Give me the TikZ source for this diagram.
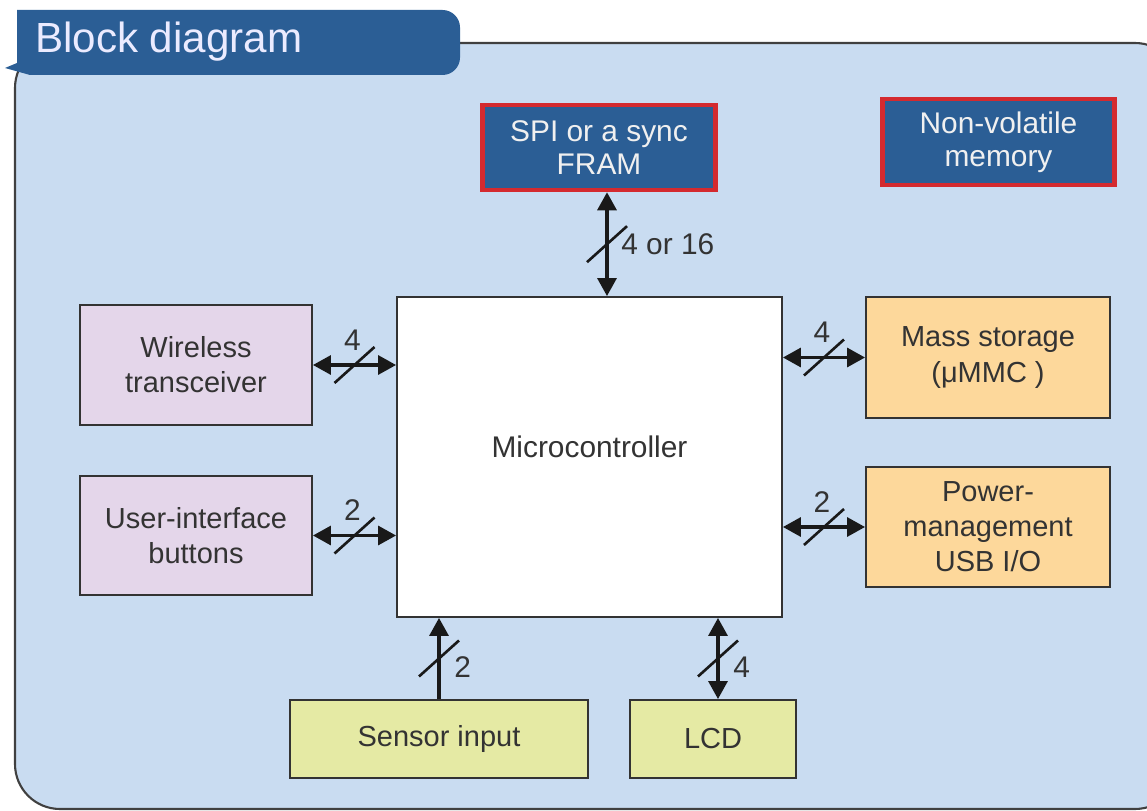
\documentclass[tikz,border=0pt]{standalone}
\usepackage{fontspec}
\setmainfont{Liberation Sans}
\usetikzlibrary{positioning}
\usetikzlibrary{arrows.meta,calc}

\definecolor{panelblue}{HTML}{C9DCF1}
\definecolor{tabblue}{HTML}{2B5E95}
\definecolor{memred}{HTML}{D42A2F}
\definecolor{lilac}{HTML}{E4D6EA}
\definecolor{peach}{HTML}{FDD89B}
\definecolor{sensorgreen}{HTML}{E5EAA4}

\tikzset{
  block/.style={draw=black!80, line width=1.1pt, align=center, text=black!80,
    font=\fontsize{16.5}{20}\selectfont, inner sep=0pt},
  mem/.style={fill=tabblue, draw=memred, line width=2.6pt, align=center,
    text=white!94!black, font=\fontsize{17}{19}\selectfont, inner sep=0pt},
  link/.style={line width=1.8pt, black!90,
    {Triangle[length=0.36cm,width=0.38cm]}-{Triangle[length=0.36cm,width=0.38cm]}},
  inlink/.style={line width=1.8pt, black!90, -{Triangle[length=0.36cm,width=0.38cm]}},
  bus/.style={line width=1.5pt, black!90},
  num/.style={font=\fontsize{17}{20}\selectfont, text=black!80, inner sep=0pt}
}

\begin{document}
\begin{tikzpicture}[x=0.02cm, y=-0.02cm]
  \useasboundingbox (0,0) rectangle (1147,811);
  \clip (0,0) rectangle (1147,811);

  % panel and title tab
  \draw[fill=panelblue, draw=black!75, line width=1.2pt, rounded corners=0.9cm]
    (15,43) rectangle (1180,809);
  \fill[tabblue] (17,10) [rounded corners=0.35cm] -- (460,10) -- (460,75)
    [sharp corners] -- (30,75) -- (5,68) -- (17,63) -- cycle;
  \node[anchor=west, text=white!92!blue, font=\fontsize{24}{28}\selectfont]
    (title) at (29,42) {Block diagram};

  % memories
  \node[mem, minimum width=4.66cm, minimum height=1.7cm] (spi) at (599,147.5)
    {SPI or a sync\\FRAM};
  \node[mem, minimum width=4.64cm, minimum height=1.72cm] (nvm) at (998.5,142)
    {Non-volatile\\memory};

  % blocks
  \node[block, fill=white, minimum width=7.7cm, minimum height=6.4cm] (mcu) at (589.5,457)
    {\raisebox{0.4cm}{\fontsize{17}{20}\selectfont Microcontroller}};
  \node[block, fill=lilac, minimum width=4.64cm, minimum height=2.4cm] (wl) at (196,365)
    {Wireless\\transceiver};
  \node[block, fill=lilac, minimum width=4.64cm, minimum height=2.38cm] (ui) at (196,535.5)
    {User-interface\\buttons};
  \node[block, fill=peach, minimum width=4.88cm, minimum height=2.42cm] (mass) at (988,357.5)
    {Mass storage\\(μMMC )};
  \node[block, fill=peach, minimum width=4.88cm, minimum height=2.4cm] (pwr) at (988,527)
    {Power-\\management\\USB I/O};
  \node[block, fill=sensorgreen, minimum width=5.96cm, minimum height=1.56cm] (sens) at (439,739)
    {Sensor input};
  \node[block, fill=sensorgreen, minimum width=3.32cm, minimum height=1.56cm] (lcd) at (713,739)
    {LCD};

  % connectors
  \draw[link] ([xshift=0.16cm]spi.south) -- coordinate (b1) ([xshift=0.16cm]spi.south |- mcu.north);
  \draw[link] (wl.east) -- coordinate (b2) (wl.east -| mcu.west);
  \draw[link] (ui.east) -- coordinate (b3) (ui.east -| mcu.west);
  \draw[link] (mass.west -| mcu.east) -- coordinate (b4) (mass.west);
  \draw[link] (pwr.west -| mcu.east) -- coordinate (b5) (pwr.west);
  \draw[inlink] (sens.north) -- coordinate (b6) (sens.north |- mcu.south);
  \draw[link] ([xshift=0.1cm]lcd.north |- mcu.south) -- coordinate (b7) ([xshift=0.1cm]lcd.north);

  % bus width marks
  \foreach \c in {b1,b2,b3,b4,b5,b6,b7}
    \draw[bus] (\c) +(-20,18) -- +(20,-18);

  \node[num, anchor=west] at ([xshift=0.28cm]b1) {4 or 16};
  \node[num] at ([xshift=-0.04cm,yshift=0.5cm]b2) {4};
  \node[num] at ([xshift=-0.04cm,yshift=0.5cm]b3) {2};
  \node[num] at ([xshift=-0.04cm,yshift=0.5cm]b4) {4};
  \node[num] at ([xshift=-0.04cm,yshift=0.5cm]b5) {2};
  \node[num, anchor=west] at ([xshift=0.3cm,yshift=-0.18cm]b6) {2};
  \node[num, anchor=west] at ([xshift=0.3cm,yshift=-0.18cm]b7) {4};
\end{tikzpicture}
\end{document}
